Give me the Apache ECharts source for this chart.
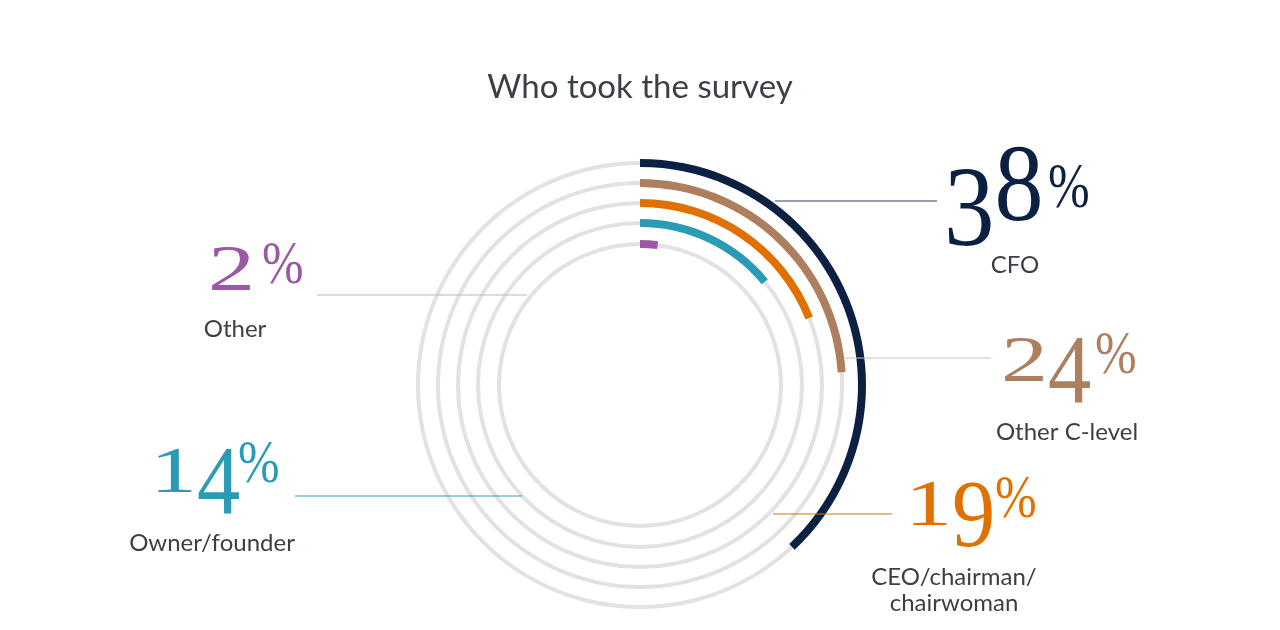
<!DOCTYPE html>
<html>
<head>
<meta charset="utf-8">
<script src="https://cdn.jsdelivr.net/npm/echarts@6/dist/echarts.min.js"></script>
<style>
html,body{margin:0;padding:0;background:#fff;}
#chart{width:1280px;height:630px;}
</style>
</head>
<body>
<div id="chart"></div>
<script>
// ---- data ----
var categories = ['CFO', 'Other C-level', 'CEO/chairman/\nchairwoman', 'Owner/founder', 'Other'];
var values = [38, 24, 19, 14, 2];
var colors = ['#0c2141', '#ad7f5e', '#e07000', '#2a9bb5', '#9b58a6'];
var lineColors = ['#2f3f5c', '#d3bfae', '#e07000', '#2a9bb5', '#cfa8d6'];
var ringRadii = [222, 202, 182, 162, 141];

// ---- layout (positions only) ----
var center = [640, 385];
// nx: left of number, base: baseline, k: size factor, px/pt: percent left/top,
// tx/ty: caption centre, line: [x1, x2, y]
var layout = [
  {nx: 944, base: 220, k: 1.17, px: 1048, pt: 165, tx: 1015, ty: 265, line: [775, 937, 201]},
  {nx: 1001, base: 381, k: 1.0, px: 1095, pt: 333, tx: 1067, ty: 432, line: [845, 991, 358]},
  {nx: 905, base: 525, k: 1.0, px: 995, pt: 477, tx: 954, ty: 590, line: [773, 892, 514]},
  {nx: 150, base: 492, k: 1.0, px: 238, pt: 442, tx: 212, ty: 543, line: [295, 522, 496]},
  {nx: 208, base: 290, k: 1.0, px: 262, pt: 243, tx: 235, ty: 329, line: [317, 527, 295]}
];

var series = [];
values.forEach(function (v, i) {
  var r = ringRadii[i];
  series.push({
    type: 'pie', silent: true, center: center, radius: [r - 2, r + 2],
    startAngle: 90, label: {show: false}, labelLine: {show: false},
    itemStyle: {color: '#e2e2e4', borderWidth: 0},
    data: [{value: 100}], z: 1
  });
  series.push({
    type: 'pie', silent: true, center: center, radius: [r - 4, r + 4],
    startAngle: 90, clockwise: true, label: {show: false}, labelLine: {show: false},
    itemStyle: {borderWidth: 0},
    data: [
      {value: v, name: categories[i], itemStyle: {color: colors[i]}},
      {value: 100 - v, itemStyle: {color: 'rgba(0,0,0,0)'}}
    ], z: 2
  });
});

// ---- old-style figure emulation with Liberation Serif ----
var FONT = '"Liberation Serif"';
var mctx = document.createElement('canvas').getContext('2d');
function metrics(ch, size) {
  mctx.font = size + 'px ' + FONT;
  mctx.textBaseline = 'alphabetic';
  var a = mctx.measureText(ch);
  mctx.textBaseline = 'middle';
  var b = mctx.measureText(ch);
  return {
    asc: a.actualBoundingBoxAscent,
    width: a.width,
    mid: a.actualBoundingBoxAscent - b.actualBoundingBoxAscent
  };
}
var xDigits = '012', dDigits = '34579';
function glyph(ch, x, baseline, size, sx, sy, color) {
  var m = metrics(ch, size);
  return {
    type: 'text', z: 10, x: x, y: baseline, scaleX: sx, scaleY: sy,
    style: {text: ch, x: 0, y: -m.mid, fill: color, font: size + 'px ' + FONT,
      textAlign: 'left', textVerticalAlign: 'middle'}
  };
}

var graphics = [];
values.forEach(function (v, i) {
  var L = layout[i], k = L.k, col = colors[i];
  graphics.push({
    type: 'line', z: 9,
    shape: {x1: L.line[0], y1: L.line[2], x2: L.line[1], y2: L.line[2]},
    style: {stroke: lineColors[i], lineWidth: 1}
  });
  var E = Math.round(84 * k);
  var X = 44 * k, A = 62 * k, D = 21 * k;
  var s = String(v), cx = L.nx;
  for (var j = 0; j < s.length; j++) {
    var ch = s.charAt(j);
    var m = metrics(ch, E);
    var sx, sy, b;
    if (xDigits.indexOf(ch) >= 0) { sx = 1.12; sy = X / m.asc; b = L.base; }
    else if (dDigits.indexOf(ch) >= 0) { sx = 1.03; sy = (X + D) / m.asc; b = L.base + D; }
    else { sx = 1.0; sy = A / m.asc; b = L.base; }
    graphics.push(glyph(ch, cx, b, E, sx, sy, col));
    cx += m.width * sx;
  }
  var pm = metrics('%', 50);
  var ph = 40 * (k > 1 ? 1.05 : 1);
  var psy = ph / pm.asc;
  graphics.push(glyph('%', L.px, L.pt + ph, 50, 1.0, psy, col));
  graphics.push({
    type: 'text', z: 10, x: L.tx, y: L.ty,
    style: {text: categories[i], fill: '#3b3f46', font: '24px Lato',
      textAlign: 'center', textVerticalAlign: 'middle', lineHeight: 26}
  });
});

var chart = echarts.init(document.getElementById('chart'));
chart.setOption({
  backgroundColor: '#ffffff',
  animation: false,
  title: {
    text: 'Who took the survey', left: 'center', top: 66,
    textStyle: {fontFamily: 'Lato', fontWeight: 'normal', fontSize: 33, color: '#3b3f46'}
  },
  series: series,
  graphic: graphics
});
</script>
</body>
</html>
